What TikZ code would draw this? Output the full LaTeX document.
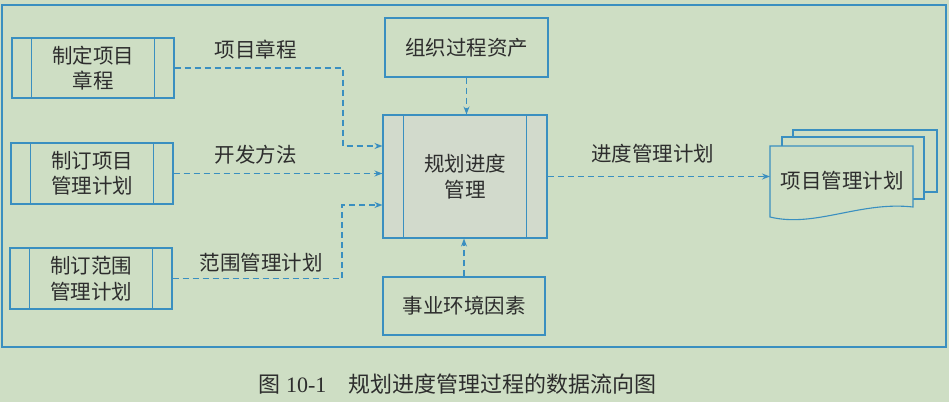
\documentclass[tikz,border=0pt]{standalone}
\usepackage{fontspec}
\setmainfont{Liberation Serif}
\newfontfamily\cjk{Noto Sans CJK SC}
\usetikzlibrary{arrows.meta,calc}
\definecolor{bg}{RGB}{206,222,196}
\definecolor{ln}{RGB}{58,143,192}
\definecolor{tx}{RGB}{45,45,45}
\definecolor{cfill}{RGB}{210,218,204}
\tikzset{
  box/.style={draw=ln, line width=1.1pt, inner sep=0pt, align=center, text=tx,
    font=\cjk\fontsize{20.5}{25.5}\selectfont},
  lbl/.style={text=tx, font=\cjk\fontsize{20.5}{24}\selectfont, inner sep=0pt},
  flow/.style={draw=ln, line width=1.1pt, dash pattern=on 6pt off 4pt,
    -{Stealth[length=8pt,width=6pt]}},
  sheet/.style={draw=ln, line width=1.1pt, fill=bg}
}
\begin{document}
\begin{tikzpicture}[x=1pt,y=-1pt]
\useasboundingbox[fill=bg] (0,0) rectangle (949,402);
\draw[ln, line width=1.1pt] (2,5) rectangle (946,347);
% left process boxes
\node[box, minimum width=162pt, minimum height=60pt] (b1) at (93,68) {制定项目\\章程};
\node[box, minimum width=162pt, minimum height=61pt] (b2) at (92,173.5) {制订项目\\管理计划};
\node[box, minimum width=162pt, minimum height=61pt] (b3) at (91,278.5) {制订范围\\管理计划};
% central
\node[box, fill=cfill, minimum width=164pt, minimum height=123pt] (c) at (465,176.5) {规划进度\\管理};
% top/bottom
\node[box, minimum width=163pt, minimum height=59pt] (t) at (466.5,47.5) {组织过程资产};
\node[box, minimum width=162pt, minimum height=58pt] (e) at (464,306) {事业环境因素};
% inner vertical lines
\foreach \n/\d in {b1/20,b2/20,b3/20,c/21}{
  \draw[ln, line width=1.1pt] ($(\n.north west)+(\d,0)$) -- ($(\n.south west)+(\d,0)$);
  \draw[ln, line width=1.1pt] ($(\n.north east)+(-\d,0)$) -- ($(\n.south east)+(-\d,0)$);
}
% document stack
\draw[ln, line width=1.1pt, fill=bg] (793,137) -- (793,130) -- (937,130) -- (937,192) -- (924,192);
\draw[ln, line width=1.1pt, fill=bg] (782,146) -- (782,137) -- (924,137) -- (924,199) -- (913,199);
\draw[sheet] (770,146) -- (913,146) -- (913,207) .. controls (860,201) and (815,228) .. (770,217) -- cycle;
\node[lbl] (d) at (842,181) {项目管理计划};
\coordinate (dw) at (770,176.5);
% labels
\node[lbl] (l1) at (255.5,50) {项目章程};
\node[lbl] (l2) at (255.5,155) {开发方法};
\node[lbl] (l3) at (261,263) {范围管理计划};
\node[lbl] (l4) at (652.5,154) {进度管理计划};
% connectors
\coordinate (m1) at (343,0);
\coordinate (m3) at (342,0);
\draw[flow] (b1.east) -- (b1.east -| m1) |- ([yshift=30.5pt]c.west);
\draw[flow] (b2.east) -- (b2.east -| c.west);
\draw[flow] (b3.east) -- (b3.east -| m3) |- ([yshift=-28.5pt]c.west);
\draw[flow] (t.south) -- (t.south |- c.north);
\draw[flow] (e.north) -- (e.north |- c.south);
\draw[flow] (c.east) -- (dw);
% caption
\node[text=tx, inner sep=0pt, font=\fontsize{22}{25}\selectfont] (cap) at (457.5,384)
  {{\cjk 图} 10-1\hspace{22pt}{\cjk 规划进度管理过程的数据流向图}};
\end{tikzpicture}
\end{document}
